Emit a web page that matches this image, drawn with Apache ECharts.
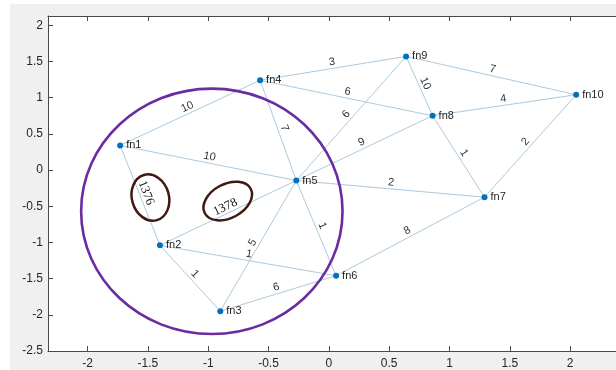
<!DOCTYPE html>
<html><head><meta charset="utf-8">
<script src="https://cdn.jsdelivr.net/npm/echarts@6/dist/echarts.min.js"></script>
<style>
html,body{margin:0;padding:0;background:#fff}
#c{width:616px;height:370px;background:#f0f0f0;box-shadow:inset 10px 4px 0 0 #fff;}
</style>
</head><body><div id="c"></div>
<script>
// ---- data ----
const nodeNames = ['fn1','fn2','fn3','fn4','fn5','fn6','fn7','fn8','fn9','fn10'];
const nodeX = [-1.73, -1.40, -0.90, -0.57, -0.27, 0.06, 1.29, 0.86, 0.64, 2.05];
const nodeY = [0.34, -1.04, -1.95, 1.24, -0.145, -1.46, -0.375, 0.75, 1.57, 1.04];

const edgeSource = ['fn1','fn1','fn1','fn2','fn2','fn2','fn3','fn3','fn4','fn5','fn4','fn4','fn5','fn5','fn5','fn9','fn9','fn8','fn8','fn10','fn6'];
const edgeTarget = ['fn4','fn5','fn2','fn5','fn6','fn3','fn5','fn6','fn5','fn6','fn9','fn8','fn9','fn8','fn7','fn8','fn10','fn10','fn7','fn7','fn7'];
const edgeWeights = [10, 10, 1376, 1378, 1, 1, 5, 6, 7, 1, 3, 6, 6, 9, 2, 10, 7, 4, 1, 2, 8];
const handWritten = [1376, 1378];

const xTicks = [-2, -1.5, -1, -0.5, 0, 0.5, 1, 1.5, 2];
const yTicks = [-2.5, -2, -1.5, -1, -0.5, 0, 0.5, 1, 1.5, 2];
const xRange = [-2.328, 2.38];
const yRange = [-2.5, 2.128];

// annotation ellipses (centres in data units)
const annX = [-0.97, -1.479, -0.838];
const annY = [-0.57, -0.38, -0.428];

// ---- chart ----
const chart = echarts.init(document.getElementById('c'), null, {renderer: 'canvas'});

const nodes = nodeNames.map((n, i) => ({name: n, value: [nodeX[i], nodeY[i]]}));
const links = edgeSource.map((s, i) => {
  const l = {source: s, target: edgeTarget[i], value: edgeWeights[i]};
  if (handWritten.indexOf(edgeWeights[i]) >= 0) {
    l.label = {fontFamily: '"Liberation Serif", "DejaVu Serif", serif', fontSize: 12.5, color: '#111', distance: 0};
  }
  return l;
});

const axisCommon = {
  type: 'value',
  axisLine: {show: true, onZero: false, lineStyle: {color: '#4a4a4a', width: 1}},
  splitLine: {show: false}
};

chart.setOption({
  animation: false,
  grid: {left: 48, right: -5, top: 16, bottom: 19, show: true, backgroundColor: '#ffffff', borderWidth: 0},
  xAxis: [
    Object.assign({}, axisCommon, {
      position: 'bottom', min: xRange[0], max: xRange[1],
      axisTick: {show: true, inside: true, length: 5, customValues: xTicks, lineStyle: {color: '#4a4a4a'}},
      axisLabel: {show: true, customValues: xTicks, margin: 7, color: '#262626', fontSize: 12,
        fontFamily: '"Liberation Sans", Arial, sans-serif', formatter: v => String(v)}
    }),
    Object.assign({}, axisCommon, {
      position: 'top', min: xRange[0], max: xRange[1],
      axisTick: {show: true, inside: true, length: 5, customValues: xTicks, lineStyle: {color: '#4a4a4a'}},
      axisLabel: {show: false}
    })
  ],
  yAxis: [
    Object.assign({}, axisCommon, {
      position: 'left', min: yRange[0], max: yRange[1],
      axisTick: {show: true, inside: true, length: 5, customValues: yTicks, lineStyle: {color: '#4a4a4a'}},
      axisLabel: {show: true, customValues: yTicks, margin: 5, color: '#262626', fontSize: 12,
        fontFamily: '"Liberation Sans", Arial, sans-serif', formatter: v => String(v)}
    })
  ],
  series: [{
    type: 'graph',
    coordinateSystem: 'cartesian2d',
    xAxisIndex: 0, yAxisIndex: 0,
    layout: 'none',
    symbol: 'circle',
    symbolSize: 6,
    itemStyle: {color: '#0072BD'},
    label: {show: true, position: 'right', distance: 3, formatter: '{b}', color: '#262626', fontSize: 11,
      fontFamily: '"Liberation Sans", Arial, sans-serif'},
    edgeLabel: {show: true, position: 'middle', formatter: '{c}', color: '#333', fontSize: 11, distance: 1,
      fontFamily: '"Liberation Sans", Arial, sans-serif'},
    lineStyle: {color: '#accadf', width: 1, opacity: 1, curveness: 0},
    data: nodes,
    links: links,
    z: 2
  }]
});

const ann = [
  {rx: 130.7, ry: 122.7, rot: 0, color: '#6a2ca0', w: 2.6},
  {rx: 18.5, ry: 23.5, rot: 0.28, color: '#3f1a10', w: 2.5},
  {rx: 26, ry: 17, rot: 0.49, color: '#3f1a10', w: 2.5}
];
const graphics = ann.map((a, i) => {
  const p = chart.convertToPixel({gridIndex: 0}, [annX[i], annY[i]]);
  return {type: 'ellipse', x: p[0], y: p[1], rotation: a.rot, z: 100,
    shape: {cx: 0, cy: 0, rx: a.rx, ry: a.ry},
    style: {fill: 'none', stroke: a.color, lineWidth: a.w}};
});
chart.setOption({graphic: graphics});
</script>
</body></html>
